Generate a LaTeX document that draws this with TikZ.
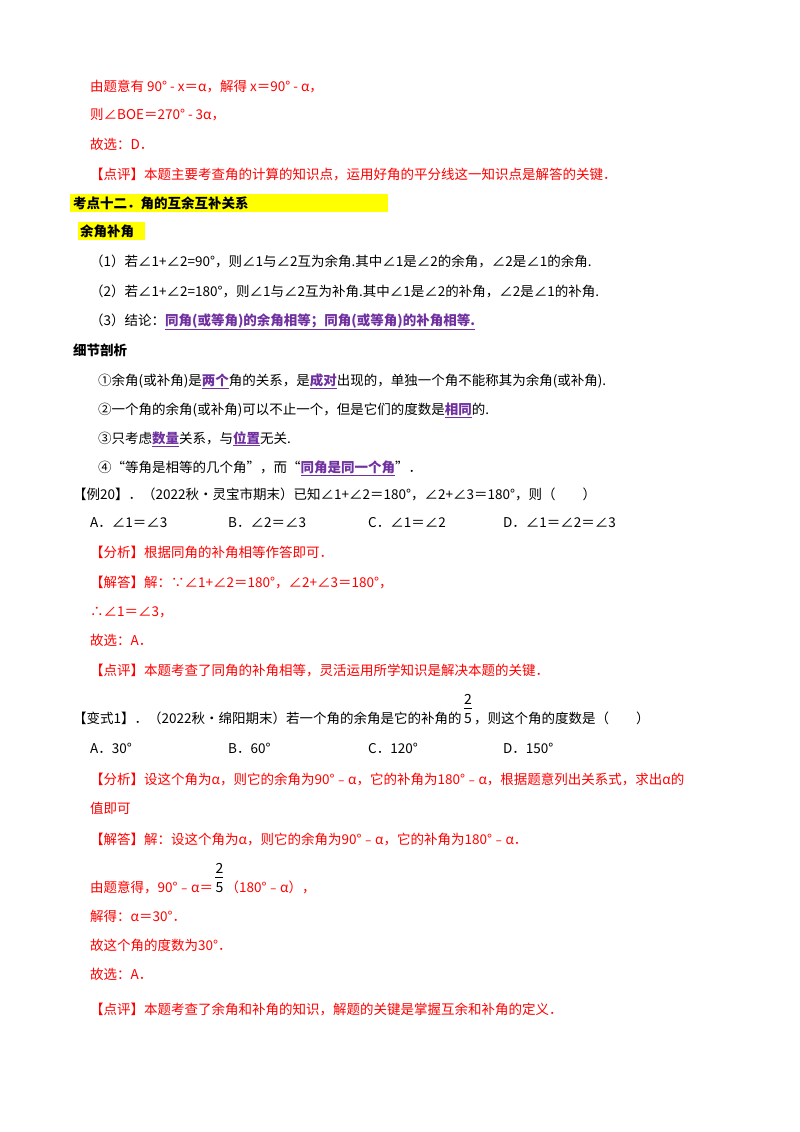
\documentclass[tikz,border=0pt]{standalone}
\usepackage{fontspec}
\setmainfont{Noto Sans CJK SC}
\definecolor{rd}{RGB}{255,0,0}
\definecolor{pu}{RGB}{112,48,160}
\definecolor{hl}{RGB}{255,255,0}
\newcommand{\pk}[1]{\textcolor{pu}{\textbf{\underline{#1}}}}
\begin{document}
\begin{tikzpicture}[x=1pt,y=-1pt,
  ln/.style={anchor=base west,inner sep=0,font=\fontsize{13.5}{16}\selectfont},
  red/.style={ln,text=rd},
  fr/.style={inner sep=0,font=\fontsize{14}{15}\selectfont}]
\useasboundingbox (0,0) rectangle (800,1132);
\fill[white] (0,0) rectangle (800,1132);
\fill[hl] (70,194) rectangle (388,212);
\fill[hl] (78,222) rectangle (145,240);
\node[red] (l1) at (90,91) {由题意有 90° - \textit{x}＝α，解得 \textit{x}＝90° - α，};
\node[red] (l2) at (90,119) {则∠\textit{BOE}＝270° - 3α，};
\node[red] (l3) at (90,149) {故选：\textit{D}．};
\node[red] (l4) at (90,179) {【点评】本题主要考查角的计算的知识点，运用好角的平分线这一知识点是解答的关键．};
\node[ln,font=\fontsize{13.5}{16}\selectfont\bfseries] (h1) at (73,208) {考点十二．角的互余互补关系};
\node[ln,font=\fontsize{13.5}{16}\selectfont\bfseries] (h2) at (80,236) {余角补角};
\node[ln] (p1) at (90,266) {（1）若∠1+∠2=90°，则∠1与∠2互为余角.其中∠1是∠2的余角，∠2是∠1的余角.};
\node[ln] (p2) at (90,296) {（2）若∠1+∠2=180°，则∠1与∠2互为补角.其中∠1是∠2的补角，∠2是∠1的补角.};
\node[ln] (p3) at (90,325) {（3）结论：\pk{同角(或等角)的余角相等；同角(或等角)的补角相等.}};
\node[ln,font=\fontsize{13.5}{16}\selectfont\bfseries] (h3) at (73,355) {细节剖析};
\node[ln] (d1) at (98,385) {①余角(或补角)是\pk{两个}角的关系，是\pk{成对}出现的，单独一个角不能称其为余角(或补角).};
\node[ln] (d2) at (98,414) {②一个角的余角(或补角)可以不止一个，但是它们的度数是\pk{相同}的.};
\node[ln] (d3) at (98,443) {③只考虑\pk{数量}关系，与\pk{位置}无关.};
\node[ln] (d4) at (98,472) {④“等角是相等的几个角”，而“\pk{同角是同一个角}”．};
\node[ln] (e1) at (73,499) {【例20】．（2022秋•灵宝市期末）已知∠1+∠2＝180°，∠2+∠3＝180°，则（　　）};
\node[ln] (oa) at (90,527) {A．∠1＝∠3};
\node[ln] (ob) at (228,527) {B．∠2＝∠3};
\node[ln] (oc) at (368,527) {C．∠1＝∠2};
\node[ln] (od) at (503,527) {D．∠1＝∠2＝∠3};
\node[red] (a1) at (90,557) {【分析】根据同角的补角相等作答即可．};
\node[red] (a2) at (90,587) {【解答】解：∵∠1+∠2＝180°，∠2+∠3＝180°，};
\node[red] (a3) at (90,616) {∴∠1＝∠3，};
\node[red] (a4) at (90,645) {故选：\textit{A}．};
\node[red] (a5) at (90,675) {【点评】本题考查了同角的补角相等，灵活运用所学知识是解决本题的关键．};
\node[ln] (v1) at (73,723) {【变式1】．（2022秋•绵阳期末）若一个角的余角是它的补角的};
\node[fr,anchor=base west] (fd1) at ([xshift=2pt]v1.base east) {5};
\node[fr,anchor=base] (fn1) at ([yshift=19pt]fd1.base) {2};
\draw[line width=0.6pt] ([yshift=14.5pt]fd1.base west) -- ([yshift=14.5pt]fd1.base east);
\node[ln,anchor=base west] (v1b) at ([xshift=2pt]fd1.base east) {，则这个角的度数是（　　）};
\node[ln] (ob1) at (90,753) {A．30°};
\node[ln] (ob2) at (228,753) {B．60°};
\node[ln] (ob3) at (368,753) {C．120°};
\node[ln] (ob4) at (503,753) {D．150°};
\node[red] (b1) at (90,784) {【分析】设这个角为α，则它的余角为90°﹣α，它的补角为180°﹣α，根据题意列出关系式，求出α的};
\node[red] (b2) at (90,813) {值即可};
\node[red] (b3) at (90,844) {【解答】解：设这个角为α，则它的余角为90°﹣α，它的补角为180°﹣α．};
\node[red] (b4) at (90,892) {由题意得，90°﹣α＝};
\node[fr,anchor=base west] (fd2) at ([xshift=2pt]b4.base east) {5};
\node[fr,anchor=base] (fn2) at ([yshift=19pt]fd2.base) {2};
\draw[line width=0.6pt] ([yshift=14.5pt]fd2.base west) -- ([yshift=14.5pt]fd2.base east);
\node[red,anchor=base west] (b4b) at ([xshift=2pt]fd2.base east) {（180°﹣α），};
\node[red] (b5) at (90,921) {解得：α＝30°．};
\node[red] (b6) at (90,950) {故这个角的度数为30°．};
\node[red] (b7) at (90,979) {故选：\textit{A}．};
\node[red] (b8) at (90,1014) {【点评】本题考查了余角和补角的知识，解题的关键是掌握互余和补角的定义．};
\end{tikzpicture}
\end{document}
